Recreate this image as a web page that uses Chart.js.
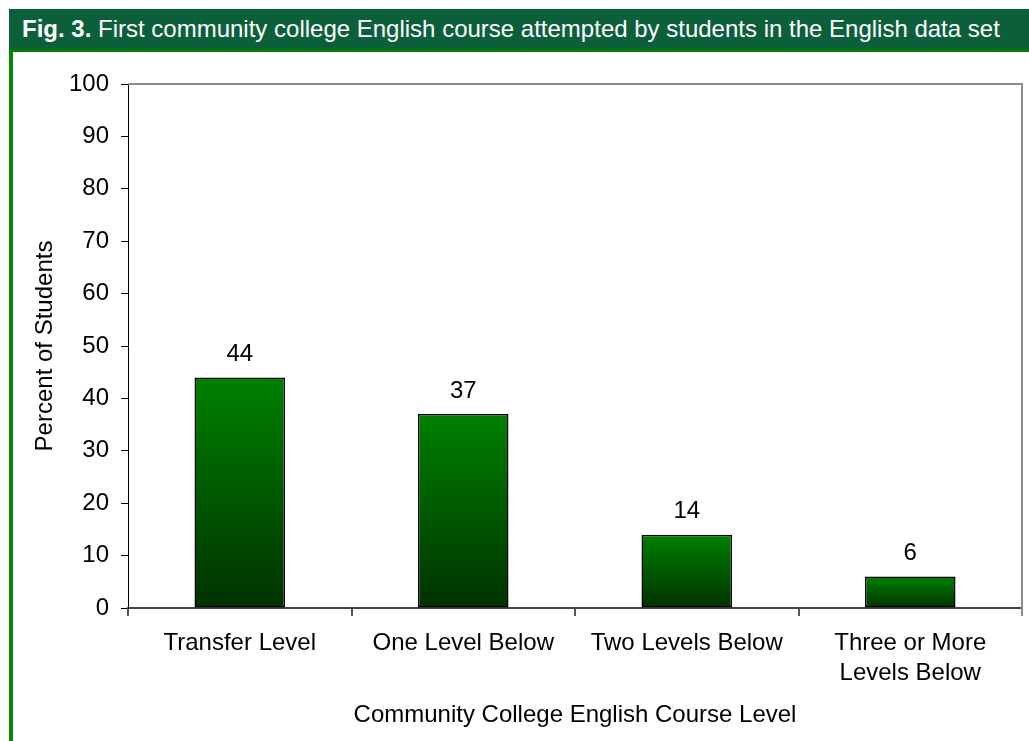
<!DOCTYPE html>
<html>
<head>
<meta charset="utf-8">
<script src="https://cdn.jsdelivr.net/npm/chart.js@4/dist/chart.umd.min.js"></script>
<style>
  html, body { margin:0; padding:0; background:#fff; }
  body { width:1029px; height:741px; position:relative; overflow:hidden; font-family:'Liberation Sans', Arial, sans-serif; }
  #head { position:absolute; left:9px; top:9px; width:1007px; height:40px; background:#0c5f3b; border-bottom:3px solid #008000;
          color:#fff; font-size:24px; line-height:40px; padding-left:13px; box-sizing:content-box; white-space:nowrap; }
  #head b { font-weight:bold; }
  #side { position:absolute; left:9px; top:52px; width:4px; height:689px; background:#008a00; }
  #wrap { position:absolute; left:14px; top:52px; width:1015px; height:689px; }
</style>
</head>
<body>
<div id="head"><b>Fig. 3.</b> First community college English course attempted by students in the English data set</div>
<div id="side"></div>
<div id="wrap"><canvas id="chart"></canvas></div>
<script>
// données
const categories = [['Transfer Level'], ['One Level Below'], ['Two Levels Below'], ['Three or More', 'Levels Below']];
const percents   = [44, 37, 14, 6];
const yTicks     = [0, 10, 20, 30, 40, 50, 60, 70, 80, 90, 100];

const FONT = { family:"'Liberation Sans', Arial, sans-serif", size:24 };

// dégradé vertical par barre : vert vif en haut, vert foncé en bas
function barGradient(ctx) {
  const chart = ctx.chart, area = chart.chartArea;
  if (!area || ctx.type !== 'data') return '#006000';
  const y = chart.scales.y;
  const top = y.getPixelForValue(ctx.raw), bot = y.getPixelForValue(0);
  const g = chart.ctx.createLinearGradient(0, top, 0, bot);
  g.addColorStop(0, '#008000');
  g.addColorStop(1, '#003200');
  return g;
}

// cadre gris en haut et à droite + valeurs au-dessus des barres
const frameAndLabels = {
  id:'frameAndLabels',
  beforeDatasetsDraw(chart) {
    const { ctx, chartArea:a } = chart;
    ctx.save();
    ctx.strokeStyle = '#8c8c8c'; ctx.lineWidth = 2;
    ctx.beginPath();
    ctx.moveTo(a.left, a.top); ctx.lineTo(a.right, a.top); ctx.lineTo(a.right, a.bottom + 8);
    ctx.stroke();
    ctx.restore();
  },
  afterDatasetsDraw(chart) {
    const { ctx } = chart;
    const meta = chart.getDatasetMeta(0);
    ctx.save();
    ctx.font = `${FONT.size}px ${FONT.family}`;
    ctx.fillStyle = '#000'; ctx.textAlign = 'center'; ctx.textBaseline = 'middle';
    meta.data.forEach((bar, i) => ctx.fillText(String(percents[i]), bar.x, bar.y - 23));
    ctx.restore();
  }
};

new Chart(document.getElementById('chart'), {
  type:'bar',
  data:{ labels:categories, datasets:[{ data:percents, backgroundColor:barGradient, borderColor:'#000', borderWidth:1.5, borderSkipped:false,
                                       categoryPercentage:1, barPercentage:0.405 }] },
  options:{
    responsive:true, maintainAspectRatio:false, animation:false,
    layout:{ padding:{ top:32, right:7, left:0, bottom:0 } },
    plugins:{ legend:{display:false}, tooltip:{enabled:false} },
    scales:{
      x:{
        grid:{ display:true, drawOnChartArea:false, offset:true, tickLength:8, color:'#555', lineWidth:2 },
        border:{ display:true, color:'#444', width:2 },
        ticks:{ font:{...FONT, lineHeight:1.25}, color:'#000', padding:12, maxRotation:0 },
        title:{ display:true, text:'Community College English Course Level', font:FONT, color:'#000', padding:{top:10, bottom:11} },
        afterFit:s => { s.height = 133; }
      },
      y:{
        min:0, max:100,
        afterBuildTicks:s => { s.ticks = yTicks.map(v => ({ value:v })); },
        grid:{ display:true, drawOnChartArea:false, tickLength:7, color:'#000', lineWidth:1 },
        border:{ display:true, color:'#000', width:1 },
        ticks:{ font:FONT, color:'#000', padding:12 },
        title:{ display:true, text:'Percent of Students', font:FONT, color:'#000', padding:{top:17, bottom:0} },
        afterFit:s => { s.width = 114; }
      }
    }
  },
  plugins:[frameAndLabels]
});
</script>
</body>
</html>
